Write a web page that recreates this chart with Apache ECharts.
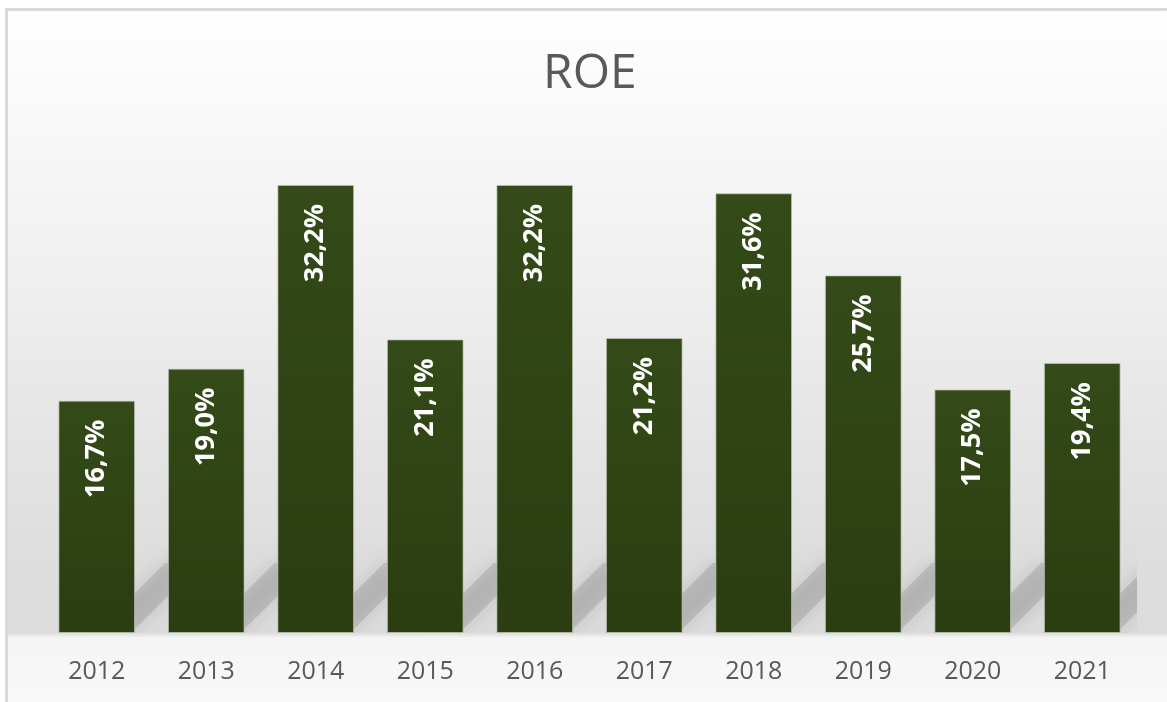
<!DOCTYPE html>
<html>
<head>
<meta charset="utf-8">
<script src="https://cdn.jsdelivr.net/npm/echarts@6/dist/echarts.min.js"></script>
<style>
  html, body { margin: 0; padding: 0; background: #fff; }
  #main { width: 1167px; height: 702px; }
</style>
</head>
<body>
<div id="main"></div>
<script>
var years = ['2012', '2013', '2014', '2015', '2016', '2017', '2018', '2019', '2020', '2021'];
var roe = [16.7, 19.0, 32.2, 21.1, 32.2, 21.2, 31.6, 25.7, 17.5, 19.4];

var chart = echarts.init(document.getElementById('main'));

// ombra diagonale dietro la base di ogni barra
function renderShadow(params, api) {
  var base = api.coord([api.value(0), 0]);
  var w = api.size([1, 0])[0] * 0.7;
  var x1 = base[0] + w / 2, y0 = base[1] - 4;
  var band = 36, h = 66;
  return {
    type: 'polygon',
    shape: { points: [[x1 - band, y0], [x1, y0], [x1 + h, y0 - h], [x1 - band + h, y0 - h]] },
    style: { fill: '#000', opacity: 0.11, shadowBlur: 22, shadowColor: '#000' }
  };
}

var option = {
  backgroundColor: '#fff',
  animation: false,
  graphic: [{
    type: 'rect',
    z: -10,
    silent: true,
    shape: { x: 6.5, y: 9.5, width: 1170, height: 700 },
    style: {
      stroke: '#d9d9d9',
      lineWidth: 3,
      fill: new echarts.graphic.LinearGradient(0, 0, 0, 1, [
        { offset: 0, color: '#ffffff' },
        { offset: 0.17, color: '#f8f8f8' },
        { offset: 0.4, color: '#efefef' },
        { offset: 0.6, color: '#e5e5e5' },
        { offset: 0.8, color: '#dddddd' },
        { offset: 0.889, color: '#dcdcdc' },
        { offset: 0.896, color: '#f5f5f5' },
        { offset: 1, color: '#f9f9f9' }
      ])
    }
  }],
  title: {
    text: 'ROE',
    left: 538,
    top: 45,
    textStyle: { fontFamily: 'Open Sans', fontSize: 48, fontWeight: 'normal', color: '#595959' }
  },
  grid: {
    left: 42,
    right: 30,
    top: 146,
    bottom: 69
  },
  xAxis: {
    type: 'category',
    data: years,
    axisLine: { show: false },
    axisTick: { show: false },
    axisLabel: { fontFamily: 'Open Sans', fontSize: 25, color: '#595959', margin: 26 }
  },
  yAxis: {
    type: 'value',
    min: 0,
    max: 35,
    show: false,
    splitLine: { show: false }
  },
  series: [
    {
      type: 'custom',
      renderItem: renderShadow,
      clip: true,
      silent: true,
      data: roe.map(function (v, i) { return [i, v]; }),
      z: 1
    },
    {
      type: 'bar',
      data: roe,
      barWidth: '70%',
      z: 2,
      itemStyle: {
        color: new echarts.graphic.LinearGradient(0, 0, 0, 1, [
          { offset: 0, color: '#344a18' },
          { offset: 1, color: '#2b3d11' }
        ]),
        borderColor: 'rgba(190,200,180,0.7)',
        borderWidth: 1
      },
      label: {
        show: true,
        position: 'insideTop',
        rotate: 90,
        align: 'right',
        verticalAlign: 'middle',
        distance: 19,
        color: '#fff',
        fontFamily: 'Open Sans',
        fontWeight: 'bold',
        fontSize: 27,
        formatter: function (p) { return p.value.toFixed(1).replace('.', ',') + '%'; }
      }
    }
  ]
};

chart.setOption(option);
</script>
</body>
</html>
